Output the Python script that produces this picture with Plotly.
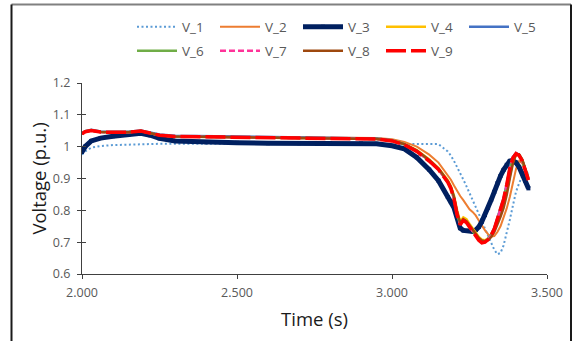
import plotly.graph_objects as go

# ---------------- data ----------------
time_s = [2.000, 2.010, 2.030, 2.060, 2.100, 2.150, 2.190, 2.220, 2.250, 2.300, 2.400,
          2.500, 2.600, 2.700, 2.800, 2.900, 2.950, 3.000, 3.040, 3.080, 3.120, 3.150,
          3.180, 3.190, 3.200, 3.210, 3.220, 3.230, 3.240, 3.250, 3.260, 3.270, 3.280,
          3.290, 3.300, 3.310, 3.320, 3.330, 3.340, 3.350, 3.360, 3.370, 3.380, 3.390,
          3.400, 3.410, 3.420, 3.430, 3.440]

v_1 = [0.975, 0.985, 0.997, 1.002, 1.005, 1.007, 1.008, 1.008, 1.009, 1.009, 1.009,
       1.009, 1.009, 1.009, 1.009, 1.009, 1.009, 1.009, 1.009, 1.009, 1.009, 1.008,
       0.985, 0.972, 0.955, 0.937, 0.918, 0.897, 0.876, 0.855, 0.833, 0.812, 0.790,
       0.767, 0.742, 0.718, 0.697, 0.676, 0.662, 0.666, 0.690, 0.727, 0.770, 0.815,
       0.858, 0.885, 0.908, 0.918, 0.916]

v_2 = [1.040, 1.047, 1.050, 1.046, 1.045, 1.045, 1.049, 1.042, 1.036, 1.032, 1.031,
       1.030, 1.029, 1.029, 1.028, 1.028, 1.027, 1.023, 1.015, 1.000, 0.975, 0.950,
       0.912, 0.896, 0.878, 0.860, 0.845, 0.832, 0.816, 0.803, 0.795, 0.784, 0.768,
       0.752, 0.737, 0.725, 0.718, 0.719, 0.732, 0.750, 0.775, 0.806, 0.842, 0.888,
       0.930, 0.955, 0.948, 0.925, 0.898]

v_3 = [0.983, 1.000, 1.018, 1.027, 1.033, 1.038, 1.042, 1.036, 1.026, 1.018, 1.014,
       1.012, 1.011, 1.011, 1.011, 1.010, 1.009, 1.003, 0.993, 0.966, 0.928, 0.893,
       0.842, 0.826, 0.808, 0.776, 0.744, 0.737, 0.735, 0.735, 0.734, 0.738, 0.748,
       0.765, 0.785, 0.808, 0.833, 0.858, 0.885, 0.908, 0.927, 0.943, 0.955, 0.957,
       0.950, 0.936, 0.916, 0.893, 0.869]

v_4 = [1.041, 1.048, 1.052, 1.047, 1.046, 1.046, 1.050, 1.043, 1.037, 1.033, 1.032,
       1.031, 1.030, 1.029, 1.028, 1.027, 1.025, 1.020, 1.009, 0.989, 0.960, 0.933,
       0.895, 0.876, 0.846, 0.800, 0.765, 0.778, 0.772, 0.757, 0.742, 0.728, 0.716,
       0.708, 0.706, 0.712, 0.725, 0.742, 0.765, 0.790, 0.818, 0.858, 0.908, 0.952,
       0.976, 0.975, 0.958, 0.930, 0.900]

v_5 = [1.042, 1.049, 1.053, 1.048, 1.047, 1.047, 1.051, 1.044, 1.038, 1.034, 1.033,
       1.032, 1.031, 1.030, 1.029, 1.028, 1.026, 1.020, 1.008, 0.987, 0.957, 0.930,
       0.890, 0.871, 0.840, 0.790, 0.758, 0.770, 0.765, 0.751, 0.738, 0.723, 0.710,
       0.702, 0.702, 0.710, 0.724, 0.744, 0.776, 0.802, 0.838, 0.882, 0.935, 0.968,
       0.980, 0.975, 0.958, 0.928, 0.898]

v_6 = [1.041, 1.048, 1.051, 1.046, 1.045, 1.045, 1.049, 1.042, 1.036, 1.032, 1.031,
       1.030, 1.029, 1.028, 1.027, 1.026, 1.024, 1.019, 1.007, 0.986, 0.956, 0.929,
       0.889, 0.869, 0.837, 0.787, 0.756, 0.769, 0.763, 0.749, 0.736, 0.721, 0.707,
       0.699, 0.701, 0.709, 0.723, 0.743, 0.774, 0.799, 0.834, 0.878, 0.930, 0.964,
       0.978, 0.973, 0.956, 0.926, 0.896]

v_7 = [1.040, 1.047, 1.051, 1.046, 1.045, 1.045, 1.049, 1.042, 1.036, 1.032, 1.031,
       1.030, 1.029, 1.028, 1.027, 1.026, 1.024, 1.018, 1.006, 0.985, 0.955, 0.928,
       0.888, 0.868, 0.836, 0.786, 0.755, 0.768, 0.762, 0.748, 0.735, 0.720, 0.706,
       0.698, 0.700, 0.708, 0.722, 0.742, 0.774, 0.800, 0.836, 0.880, 0.932, 0.966,
       0.979, 0.973, 0.956, 0.926, 0.896]

v_8 = [1.040, 1.047, 1.051, 1.046, 1.045, 1.045, 1.049, 1.042, 1.036, 1.032, 1.031,
       1.030, 1.029, 1.028, 1.027, 1.026, 1.024, 1.019, 1.008, 0.988, 0.958, 0.931,
       0.892, 0.873, 0.842, 0.795, 0.760, 0.772, 0.766, 0.753, 0.740, 0.726, 0.713,
       0.705, 0.703, 0.706, 0.716, 0.732, 0.755, 0.780, 0.808, 0.848, 0.900, 0.948,
       0.975, 0.976, 0.960, 0.932, 0.902]

v_9 = [1.040, 1.047, 1.051, 1.046, 1.045, 1.045, 1.049, 1.042, 1.036, 1.032, 1.031,
       1.030, 1.029, 1.028, 1.027, 1.026, 1.024, 1.018, 1.006, 0.985, 0.955, 0.928,
       0.888, 0.868, 0.835, 0.785, 0.755, 0.768, 0.762, 0.748, 0.735, 0.720, 0.706,
       0.698, 0.700, 0.708, 0.722, 0.742, 0.775, 0.800, 0.835, 0.880, 0.932, 0.965,
       0.978, 0.972, 0.955, 0.925, 0.895]

series_names = ["V_1", "V_2", "V_3", "V_4", "V_5", "V_6", "V_7", "V_8", "V_9"]
series_values = [v_1, v_2, v_3, v_4, v_5, v_6, v_7, v_8, v_9]

x_tick_vals = [2.0, 2.5, 3.0, 3.5]
x_tick_text = ["2.000", "2.500", "3.000", "3.500"]
y_tick_vals = [0.6, 0.7, 0.8, 0.9, 1.0, 1.1, 1.2]
y_tick_text = ["0.6", "0.7", "0.8", "0.9", "1", "1.1", "1.2"]

x_title = "Time (s)"
y_title = "Voltage (p.u.)"

# ---------------- styles ----------------
styles = {
    "V_1": dict(color="#5B9BD5", width=2, dash="2px,2.5px"),
    "V_2": dict(color="#ED7D31", width=2, dash="solid"),
    "V_3": dict(color="#002060", width=5, dash="solid"),
    "V_4": dict(color="#FFC000", width=2.5, dash="solid"),
    "V_5": dict(color="#4472C4", width=2.5, dash="solid"),
    "V_6": dict(color="#70AD47", width=2.5, dash="solid"),
    "V_7": dict(color="#FF3399", width=2.5, dash="6px,3px"),
    "V_8": dict(color="#9E480E", width=2.5, dash="solid"),
    "V_9": dict(color="#FF0000", width=3.5, dash="20px,5px"),
}

FONT = "Open Sans, Liberation Sans, sans-serif"
GRAY = "#595959"

fig = go.Figure()
for i, (name, vals) in enumerate(zip(series_names, series_values)):
    st = styles[name]
    kw = dict(x=time_s, y=vals, name=name,
              line=dict(color=st["color"], width=st["width"], dash=st["dash"]),
              legend="legend" if i < 5 else "legend2")
    if name == "V_3":
        kw["mode"] = "lines+markers"
        kw["marker"] = dict(symbol="square", size=4, color=st["color"])
    else:
        kw["mode"] = "lines"
    fig.add_trace(go.Scatter(**kw))

# invisible overlay axis for the inner half of the crossing y ticks
fig.add_trace(go.Scatter(x=[None], y=[None], yaxis="y2", showlegend=False,
                         hoverinfo="skip"))

L, R, T, B = 82, 30, 83, 67
W, H = 577, 341
pw, ph = W - L - R, H - T - B

def px_x(px):
    return (px - L) / pw

def px_y(py):
    return (H - B - py) / ph

legend_common = dict(orientation="h", xanchor="left", yanchor="middle",
                     font=dict(family=FONT, size=13.5, color=GRAY),
                     bgcolor="rgba(0,0,0,0)", borderwidth=0,
                     entrywidth=28, entrywidthmode="pixels",
                     itemwidth=40, traceorder="normal")

fig.update_layout(
    width=W, height=H,
    margin=dict(l=L, r=R, t=T, b=B, pad=0),
    paper_bgcolor="white", plot_bgcolor="white",
    font=dict(family=FONT, color=GRAY),
    showlegend=True,
    legend=dict(x=px_x(132), y=px_y(27), **legend_common),
    legend2=dict(x=px_x(132), y=px_y(51), **legend_common),
    xaxis=dict(range=[2.0, 3.5], tickvals=x_tick_vals, ticktext=x_tick_text,
               showline=True, linecolor="#404040", linewidth=1.3,
               ticks="outside", ticklen=4, tickcolor="#404040",
               showgrid=False, zeroline=False, ticklabelstandoff=3,
               tickfont=dict(family=FONT, size=12.5, color=GRAY),
               title=dict(text=x_title, standoff=12,
                          font=dict(family=FONT, size=18.5, color="#1a1a1a"))),
    yaxis=dict(range=[0.6, 1.2], tickvals=y_tick_vals, ticktext=y_tick_text,
               showline=True, linecolor="#404040", linewidth=1.3,
               ticks="outside", ticklen=4, tickcolor="#404040",
               showgrid=False, zeroline=False, ticklabelstandoff=4,
               tickfont=dict(family=FONT, size=12.5, color=GRAY),
               title=dict(text=y_title, standoff=1,
                          font=dict(family=FONT, size=18.5, color="#1a1a1a"))),
    yaxis2=dict(range=[0.6, 1.2], tickvals=y_tick_vals, overlaying="y",
                side="left", showticklabels=False, showline=False,
                ticks="inside", ticklen=4, tickcolor="#404040",
                showgrid=False, zeroline=False),
)

# outer chart-area frame
fx0, fx1 = px_x(11.5), px_x(571)
fy_top, fy_bot = px_y(4.5), px_y(360)
fig.add_shape(type="line", xref="paper", yref="paper", x0=fx0, x1=fx1,
              y0=fy_top, y1=fy_top, line=dict(color="#808080", width=2))
fig.add_shape(type="line", xref="paper", yref="paper", x0=fx0, x1=fx0,
              y0=fy_top, y1=fy_bot, line=dict(color="#1a1a1a", width=2))
fig.add_shape(type="line", xref="paper", yref="paper", x0=fx1, x1=fx1,
              y0=fy_top, y1=fy_bot, line=dict(color="#1a1a1a", width=2))

# the page body has a default 8px margin; remove it so the figure sits at (0, 0)
fig.write_html("out.html",
               config={"displayModeBar": False},
               post_script="document.body.style.margin='0';"
                           "document.body.style.overflow='hidden';")
